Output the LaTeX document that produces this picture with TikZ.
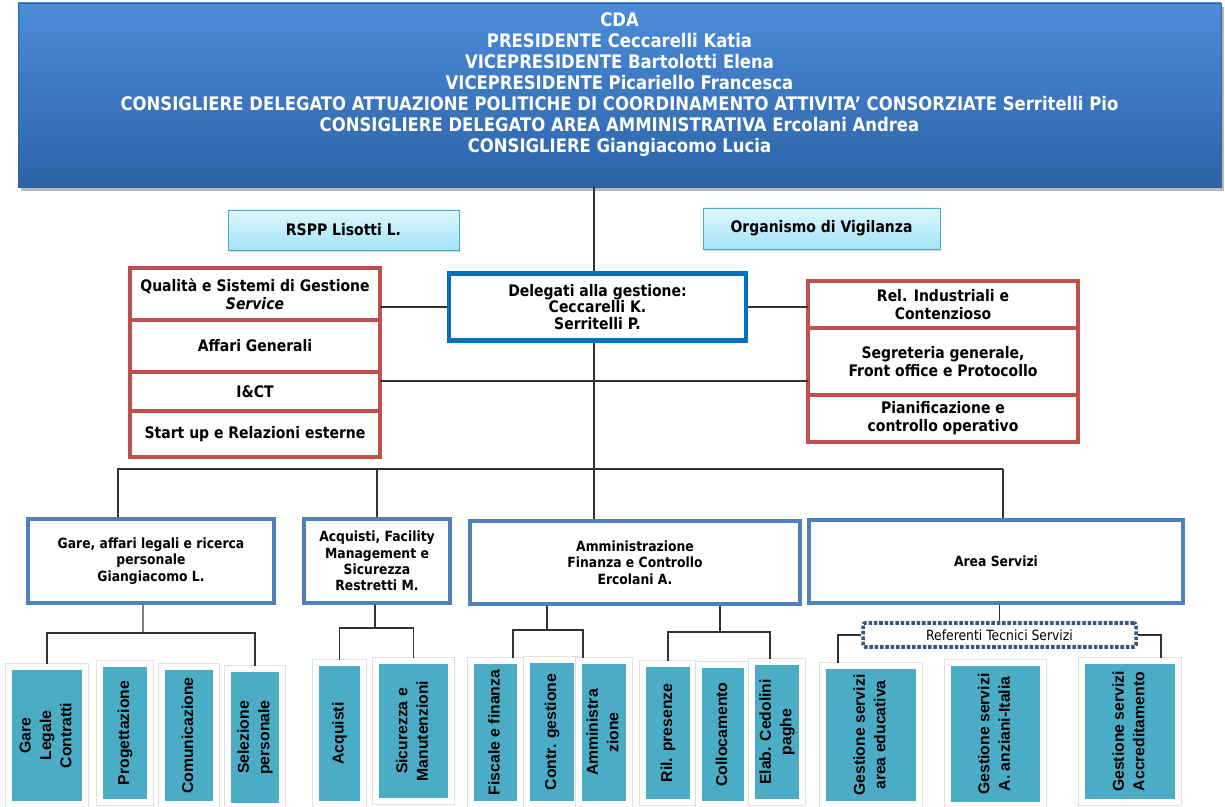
\documentclass[tikz,border=0pt]{standalone}
\usepackage{fontspec}
\setmainfont{DejaVu Sans}[FakeStretch=0.88]
\newfontfamily\arialfont{Liberation Sans}
\usepackage{graphicx}
\usetikzlibrary{positioning, shadows}

\definecolor{cdatop}{RGB}{76,140,218}
\definecolor{cdabot}{RGB}{44,99,166}
\definecolor{cyantop}{RGB}{222,247,253}
\definecolor{cyanbot}{RGB}{162,228,247}
\definecolor{cyanline}{RGB}{75,172,198}
\definecolor{redline}{RGB}{192,80,77}
\definecolor{delegblue}{RGB}{0,112,192}
\definecolor{deptblue}{RGB}{79,129,189}
\definecolor{tealbox}{RGB}{75,172,198}
\definecolor{refblue}{RGB}{55,86,135}

\newcommand{\vlab}[1]{\rotatebox{90}{\begin{tabular}{@{}c@{}}#1\end{tabular}}}

\tikzset{
    sz/.style 2 args={minimum width=#1*0.025cm, minimum height=#2*0.025cm}, % box size given in pixels
    cda/.style={top color=cdatop, bottom color=cdabot, draw=cdabot, text=white, align=center,
        font=\fontsize{13.3}{15}\selectfont\bfseries,
        drop shadow={shadow xshift=2pt, shadow yshift=-3pt, opacity=0.55}}, % the board box
    staff/.style={top color=cyantop, bottom color=cyanbot, draw=cyanline, line width=0.7pt,
        font=\fontsize{11.3}{13}\selectfont\bfseries,
        drop shadow={shadow xshift=1pt, shadow yshift=-1.5pt, opacity=0.3}}, % staff boxes
    redcell/.style={draw=redline, line width=2.2pt, fill=white, outer sep=0pt, align=center,
        font=\fontsize{11.3}{12.8}\selectfont\bfseries}, % stacked red cells
    deleg/.style={draw=delegblue, line width=3pt, fill=white, align=center,
        font=\fontsize{11.3}{12}\selectfont\bfseries},
    dept/.style={draw=deptblue, line width=2.8pt, fill=white, align=center,
        font=\fontsize{10}{11.7}\selectfont\bfseries}, % second level
    subbox/.style={fill=tealbox, draw=white, line width=4.2pt, preaction={draw=black!12, line width=5pt},
        font=\arialfont\fontsize{11.2}{14.5}\selectfont\bfseries}, % offices at the bottom
    refbox/.style={draw=refblue, line width=2.5pt, dash pattern=on 2.5pt off 1.3pt, rounded corners=1.5pt,
        fill=white, font=\fontsize{10}{12}\selectfont},
    link/.style={draw=black!80, line width=0.8pt},
}

\begin{document}
\begin{tikzpicture}[x=0.025cm, y=-0.025cm]
\useasboundingbox (0,0) rectangle (1225,807);

% board
\node[cda, sz={1203}{184}, text depth=18pt] (cda) at (619.5,95) {CDA\\
    PRESIDENTE Ceccarelli Katia\\
    VICEPRESIDENTE Bartolotti Elena\\
    VICEPRESIDENTE Picariello Francesca\\
    CONSIGLIERE DELEGATO ATTUAZIONE POLITICHE DI COORDINAMENTO ATTIVITA’ CONSORZIATE Serritelli Pio\\
    CONSIGLIERE DELEGATO AREA AMMINISTRATIVA Ercolani Andrea\\
    CONSIGLIERE Giangiacomo Lucia};

\node[staff, sz={231}{40}] (rspp) at (343.5,230) {RSPP Lisotti L.};
\node[staff, sz={237}{41}] (odv) at (821.5,228.5) {Organismo di Vigilanza};

% left stack
\node[redcell, sz={250}{52}] (qual) at (255,294) {Qualità e Sistemi di Gestione\\ \textit{Service}};
\node[redcell, sz={250}{52}, below=0pt of qual] (affari) {Affari Generali};
\node[redcell, sz={250}{39}, below=0pt of affari] (ict) {I\&CT};
\node[redcell, sz={250}{46}, below=0pt of ict] (startup) {Start up e Relazioni esterne};

\node[deleg, sz={297}{67}] (deleg) at (597.5,307) {Delegati alla gestione:\\ Ceccarelli K.\\ Serritelli P.};

% right stack
\node[redcell, sz={270}{47}] (relind) at (943,304.5) {Rel. Industriali e\\ Contenzioso};
\node[redcell, sz={270}{67}, below=0pt of relind] (segr) {Segreteria generale,\\ Front office e Protocollo};
\node[redcell, sz={270}{47}, below=0pt of segr] (pianif) {Pianificazione e\\ controllo operativo};

% second level
\node[dept, sz={246}{84}] (gare) at (151,561) {Gare, affari legali e ricerca\\ personale\\ Giangiacomo L.};
\node[dept, sz={146}{84}] (acq) at (377,561) {Acquisti, Facility\\ Management e\\ Sicurezza\\ Restretti M.};
\node[dept, sz={330}{83}] (amm) at (635,562.5) {Amministrazione\\ Finanza e Controllo\\ Ercolani A.};
\node[dept, sz={374}{83}] (serv) at (996,561.5) {Area Servizi};

\node[refbox, sz={273}{24}] (ref) at (999.5,635) {Referenti Tecnici Servizi};

% offices
\node[subbox, sz={76}{137}] (glc) at (47,735.5) {\vlab{Gare\\ Legale\\ Contratti}};
\node[subbox, sz={50}{138}] (prog) at (125,733) {\vlab{Progettazione}};
\node[subbox, sz={54}{137}] (com) at (189,735.5) {\vlab{Comunicazione}};
\node[subbox, sz={54}{137}] (sel) at (255,737.5) {\vlab{Selezione\\ personale}};
\node[subbox, sz={47}{141}] (acqu) at (339.5,733.5) {\vlab{Acquisti}};
\node[subbox, sz={75}{140}] (sic) at (413.5,731) {\vlab{Sicurezza e\\ Manutenzioni}};
\node[subbox, sz={49}{143}] (fisc) at (495.5,732.5) {\vlab{Fiscale e finanza}};
\node[subbox, sz={50}{144}] (contr) at (552,732) {\vlab{Contr. gestione}};
\node[subbox, sz={46}{143}] (ammz) at (604,732.5) {\vlab{Amministra\\ zione}};
\node[subbox, sz={50}{138}] (ril) at (668,733) {\vlab{Ril. presenze}};
\node[subbox, sz={48}{139}] (coll) at (723,734.5) {\vlab{Collocamento}};
\node[subbox, sz={46}{140}] (elab) at (777,732) {\vlab{Elab. Cedolini\\ paghe}};
\node[subbox, sz={96}{138}] (ged) at (871,735) {\vlab{Gestione servizi\\ area educativa}};
\node[subbox, sz={95}{142}] (anz) at (995.5,734) {\vlab{Gestione servizi\\ A. anziani-Italia}};
\node[subbox, sz={96}{141}] (accr) at (1130,731.5) {\vlab{Gestione servizi\\ Accreditamento}};

% connectors
\coordinate (trunk) at (594,469);
\coordinate (mid) at (594,381);
\draw[link] (cda.south -| trunk) -- (deleg.north -| trunk);
\draw[link] (deleg.south -| trunk) -- (trunk);
\draw[link] (qual.east |- deleg.west) -- (deleg.west);
\draw[link] (deleg.east) -- (deleg.east -| relind.west);
\draw[link] (mid -| ict.east) -- (mid -| segr.west);

\coordinate (busl) at (118,469);
\coordinate (busr) at (1003,469);
\draw[link] (gare.north -| busl) -- (busl) -- (busr);
\draw[link, line width=1.6pt] (busr) -- (serv.north -| busr);
\draw[link] (acq.north) -- (acq.north |- trunk);
\draw[link] (trunk) -- (amm.north -| trunk);

\coordinate (gbus) at (143,633);
\draw[link, black!50] (gare.south -| gbus) -- (gbus);
\draw[link] (glc.north) -- (glc.north |- gbus) -- (sel.north |- gbus) -- (sel.north);

\coordinate (abus) at (375,628);
\draw[link] (acq.south -| abus) -- (abus);
\draw[link] (acqu.north) -- (acqu.north |- abus) -- (sic.north |- abus) -- (sic.north);

\coordinate (mbusl) at (547,630);
\coordinate (mla) at (513,630);
\coordinate (mlb) at (583,630);
\draw[link] (amm.south -| mbusl) -- (mbusl);
\draw[link] (fisc.north -| mla) -- (mla) -- (mlb) -- (ammz.north -| mlb);

\coordinate (mbusr) at (720,632);
\coordinate (mrb) at (770,632);
\draw[link] (amm.south -| mbusr) -- (mbusr);
\draw[link] (ril.north) -- (ril.north |- mbusr) -- (mrb) -- (elab.north -| mrb);

\coordinate (rl) at (838,635);
\coordinate (rr) at (1161,635);
\draw[link] (serv.south -| ref.north) -- (ref.north);
\draw[link] (ref.west) -- (rl) -- (ged.north -| rl);
\draw[link] (ref.east) -- (rr) -- (accr.north -| rr);
\end{tikzpicture}
\end{document}
